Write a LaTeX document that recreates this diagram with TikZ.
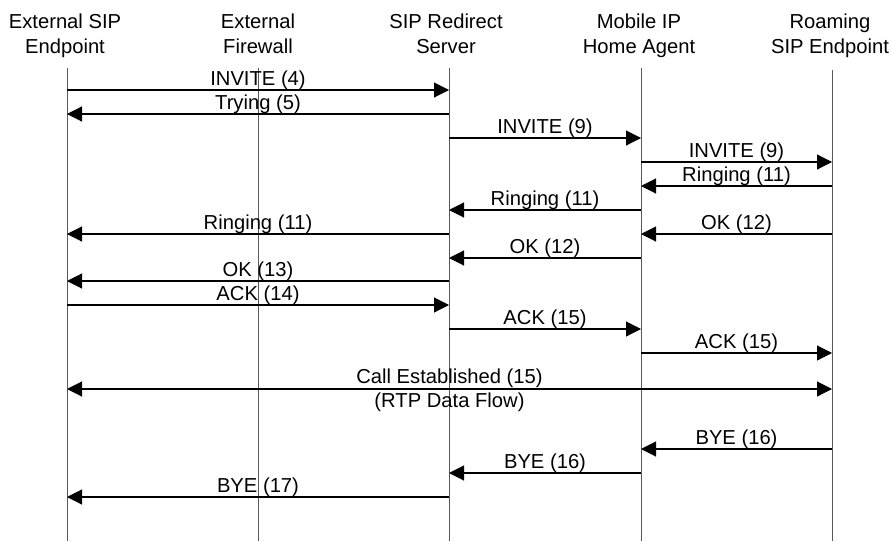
\documentclass[tikz,border=0pt]{standalone}
\usepackage{fontspec}
\setmainfont{Liberation Sans}
\usetikzlibrary{arrows.meta}
\begin{document}
\begin{tikzpicture}[x=1pt,y=-1pt,
  every node/.style={font=\fontsize{20.2}{25}\selectfont, inner sep=0pt},
  lifeline/.style={draw=black!65, line width=0.9pt},
  head/.style={align=center, anchor=north},
  msg/.style={draw=black, line width=1.1pt, -{Triangle[length=15pt,width=15pt]}},
  bimsg/.style={draw=black, line width=1.1pt, {Triangle[length=15pt,width=15pt]}-{Triangle[length=15pt,width=15pt]}},
  lbl/.style={midway, anchor=base, yshift=4.5pt},
  lblbelow/.style={midway, anchor=base, yshift=-18.5pt}]
\useasboundingbox (0,0) rectangle (891,541);

% participants
\node[head] (h1) at (65,13.5) {External SIP\\Endpoint};
\node[head] (h2) at (258,13.5) {External\\Firewall};
\node[head] (h3) at (446,13.5) {SIP Redirect\\Server};
\node[head] (h4) at (639,13.5) {Mobile IP\\Home Agent};
\node[head] (h5) at (830,13.5) {Roaming\\SIP Endpoint};

% lifelines
\coordinate (t1) at (67,68);  \coordinate (b1) at (67,541);
\coordinate (t2) at (258,68); \coordinate (b2) at (258,541);
\coordinate (t3) at (449,68); \coordinate (b3) at (449,541);
\coordinate (t4) at (641,68); \coordinate (b4) at (641,541);
\coordinate (t5) at (832,70); \coordinate (b5) at (832,541);
\foreach \i in {1,...,5} { \draw[lifeline] (t\i) -- (b\i); }

% messages
\draw[msg] (t1 |- 0,90)  -- node[lbl]{INVITE (4)} (t3 |- 0,90);
\draw[msg] (t3 |- 0,114) -- node[lbl]{Trying (5)} (t1 |- 0,114);
\draw[msg] (t3 |- 0,138) -- node[lbl]{INVITE (9)} (t4 |- 0,138);
\draw[msg] (t4 |- 0,162) -- node[lbl]{INVITE (9)} (t5 |- 0,162);
\draw[msg] (t5 |- 0,186) -- node[lbl]{Ringing (11)} (t4 |- 0,186);
\draw[msg] (t4 |- 0,210) -- node[lbl]{Ringing (11)} (t3 |- 0,210);
\draw[msg] (t3 |- 0,234) -- node[lbl]{Ringing (11)} (t1 |- 0,234);
\draw[msg] (t5 |- 0,234) -- node[lbl]{OK (12)} (t4 |- 0,234);
\draw[msg] (t4 |- 0,258) -- node[lbl]{OK (12)} (t3 |- 0,258);
\draw[msg] (t3 |- 0,281) -- node[lbl]{OK (13)} (t1 |- 0,281);
\draw[msg] (t1 |- 0,305) -- node[lbl]{ACK (14)} (t3 |- 0,305);
\draw[msg] (t3 |- 0,329) -- node[lbl]{ACK (15)} (t4 |- 0,329);
\draw[msg] (t4 |- 0,353) -- node[lbl]{ACK (15)} (t5 |- 0,353);
\draw[bimsg] (t1 |- 0,389) -- node[lbl, yshift=1.5pt]{Call Established (15)}
  node[lblbelow]{(RTP Data Flow)} (t5 |- 0,389);
\draw[msg] (t5 |- 0,449) -- node[lbl]{BYE (16)} (t4 |- 0,449);
\draw[msg] (t4 |- 0,473) -- node[lbl]{BYE (16)} (t3 |- 0,473);
\draw[msg] (t3 |- 0,497) -- node[lbl]{BYE (17)} (t1 |- 0,497);
\end{tikzpicture}
\end{document}
